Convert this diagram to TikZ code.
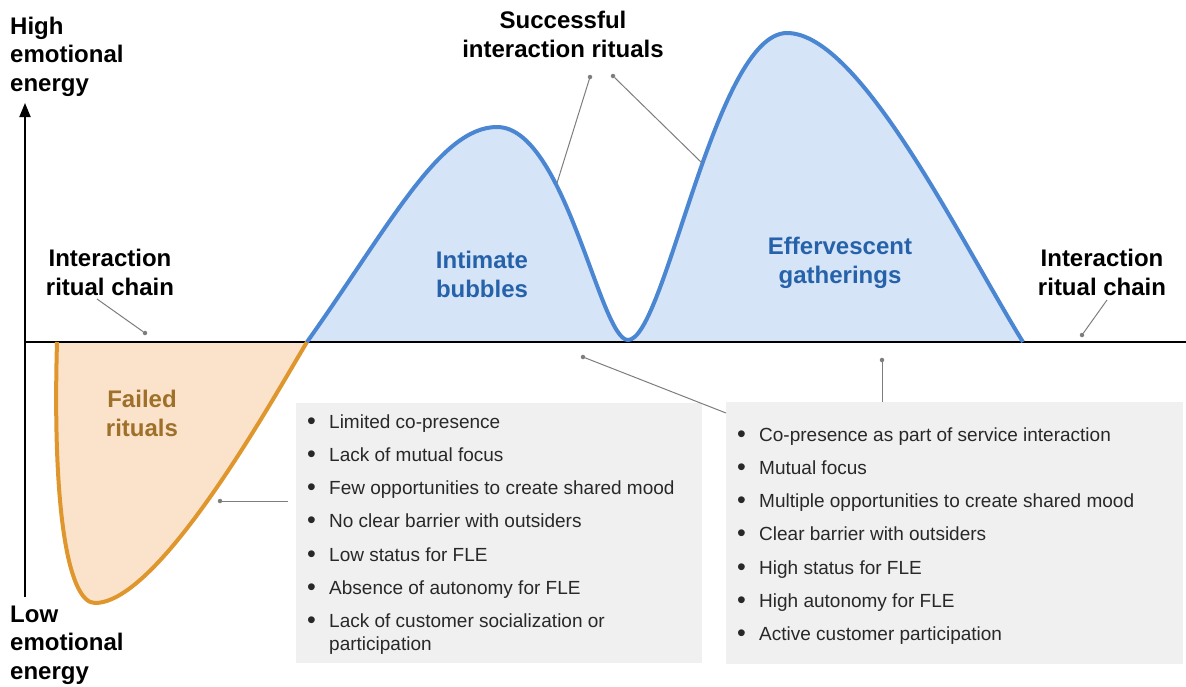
\documentclass[tikz,border=0pt]{standalone}
\usepackage{fontspec}
\setmainfont{Liberation Sans}
\usetikzlibrary{arrows.meta}

\definecolor{curveblue}{RGB}{74,134,210}
\definecolor{fillblue}{RGB}{214,228,247}
\definecolor{textblue}{RGB}{38,98,170}
\definecolor{curveorange}{RGB}{222,150,45}
\definecolor{fillorange}{RGB}{251,227,203}
\definecolor{textorange}{RGB}{158,112,42}
\definecolor{boxgray}{RGB}{240,240,240}
\definecolor{pointergray}{RGB}{125,125,125}
\definecolor{itemblack}{RGB}{40,40,40}

\newcommand{\bitem}[1]{\makebox[22pt][l]{\raisebox{-1pt}{\fontsize{25}{25}\selectfont\textbullet}}\begin{tabular}[t]{@{}l@{}}#1\end{tabular}}

\begin{document}
\begin{tikzpicture}[
  x = 1pt,
  y = -1pt,
  heading/.style = {
    font = \fontsize{24}{28.5}\selectfont\bfseries,
    align = center,
    inner sep = 0pt,
    anchor = base
  },
  sideheading/.style = {
    heading,
    align = left,
    anchor = base west
  },
  itemtext/.style = {
    font = \fontsize{19}{23}\selectfont,
    text = itemblack,
    inner sep = 0pt,
    anchor = base west
  },
  panel/.style = {
    fill = boxgray,
    inner sep = 0pt
  },
  dot/.style = {
    shape = circle,
    fill = pointergray,
    minimum size = 4.5pt,
    inner sep = 0pt,
    outer sep = 0pt
  },
  pointer/.style = {
    draw = pointergray,
    line width = 1pt
  },
  curve/.style = {
    line width = 4pt,
    line join = round
  },
  axis/.style = {
    draw = black,
    line width = 1.8pt
  }
]
  \useasboundingbox (0, 0) rectangle (1186, 686);

  \node[panel, minimum width = 406pt, minimum height = 260pt] (boxL) at (499, 533) {};
  \node[panel, minimum width = 457pt, minimum height = 262pt] (boxR) at (954.5, 533) {};

  \path[fill = fillorange] (57, 342) .. controls (52, 520) and (70, 603) .. (95, 603)
    .. controls (160, 603) and (275, 395) .. (307, 342) -- cycle;
  \path[fill = fillblue] (307, 342) .. controls (390, 225) and (440, 127) .. (497, 127)
    .. controls (565, 127) and (600, 340) .. (628, 340)
    .. controls (665, 340) and (715, 33) .. (787, 33)
    .. controls (860, 33) and (960, 240) .. (1023, 342) -- cycle;

  \coordinate (top) at (25, 103);
  \coordinate (bottom) at (25, 597);
  \coordinate (origin) at (25, 342);
  \coordinate (right) at (1186, 342);
  \draw[axis, -{Triangle[width = 11pt, length = 14pt]}] (bottom) -- (top);
  \draw[axis] (origin) -- (right);

  \draw[curve, draw = curveorange] (57, 342) .. controls (52, 520) and (70, 603) .. (95, 603)
    .. controls (160, 603) and (275, 395) .. (307, 342);
  \draw[curve, draw = curveblue] (307, 342) .. controls (390, 225) and (440, 127) .. (497, 127)
    .. controls (565, 127) and (600, 340) .. (628, 340)
    .. controls (665, 340) and (715, 33) .. (787, 33)
    .. controls (860, 33) and (960, 240) .. (1023, 342);

  \node[sideheading] (high) at (10, 91) {High\\emotional\\energy};
  \node[sideheading] (low) at (10, 679) {Low\\emotional\\energy};
  \node[heading] (chainL) at (110, 295) {Interaction\\ritual chain};
  \node[heading] (chainR) at (1102, 295) {Interaction\\ritual chain};
  \node[heading] (success) at (563, 57) {Successful\\interaction rituals};
  \node[heading, text = textblue] (bubbles) at (482, 297) {Intimate\\bubbles};
  \node[heading, text = textblue] (gatherings) at (840, 283) {Effervescent\\gatherings};
  \node[heading, text = textorange] (failed) at (142, 436) {Failed\\rituals};

  \node[dot] (dChainL) at (145, 333) {};
  \coordinate (eChainL) at (97, 299);
  \node[dot] (dChainR) at (1082, 335) {};
  \coordinate (eChainR) at (1107, 300);
  \node[dot] (dBubbles) at (590, 77) {};
  \coordinate (eBubbles) at (557, 183);
  \node[dot] (dGatherings) at (613, 76) {};
  \coordinate (eGatherings) at (702, 163);
  \node[dot] (dFailed) at (220, 501) {};
  \coordinate (eFailed) at (288, 501);
  \node[dot] (dSuccess) at (583, 357) {};
  \coordinate (eSuccess) at (726, 413);
  \node[dot] (dEffer) at (882, 360) {};

  \draw[pointer] (dChainL) -- (eChainL);
  \draw[pointer] (dChainR) -- (eChainR);
  \draw[pointer] (dBubbles) -- (eBubbles);
  \draw[pointer] (dGatherings) -- (eGatherings);
  \draw[pointer] (dFailed) -- (eFailed);
  \draw[pointer] (dSuccess) -- (eSuccess);
  \draw[pointer] (dEffer) -- (dEffer |- boxR.north);

  \foreach \txt [count = \i] in {Limited co-presence, Lack of mutual focus,
      Few opportunities to create shared mood, No clear barrier with outsiders,
      Low status for FLE, Absence of autonomy for FLE,
      Lack of customer socialization or\\participation}
    \node[itemtext] (fail\i) at (307, {428 + 33.3*(\i-1)}) {\bitem{\txt}};

  \foreach \txt [count = \i] in {Co-presence as part of service interaction, Mutual focus,
      Multiple opportunities to create shared mood, Clear barrier with outsiders,
      High status for FLE, High autonomy for FLE, Active customer participation}
    \node[itemtext] (good\i) at (737, {441 + 33.3*(\i-1)}) {\bitem{\txt}};
\end{tikzpicture}
\end{document}
